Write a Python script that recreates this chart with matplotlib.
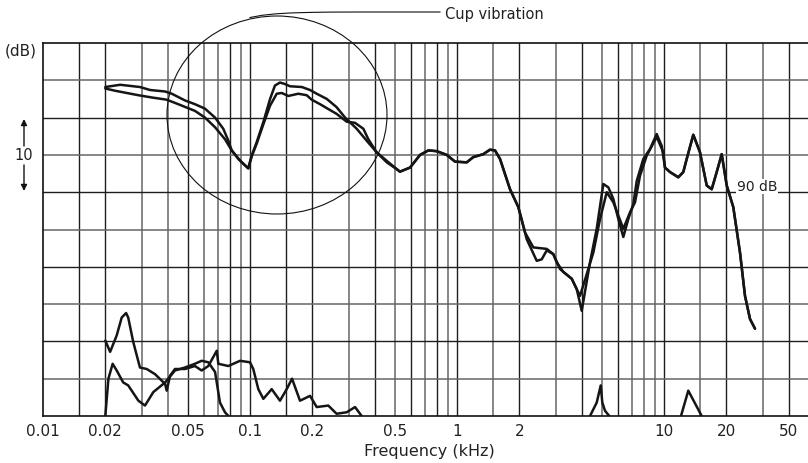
import matplotlib
matplotlib.use("Agg")
import matplotlib.pyplot as plt
from matplotlib.patches import Ellipse, FancyArrowPatch
from matplotlib.lines import Line2D
from matplotlib.ticker import NullLocator
import numpy as np

plt.rcParams['font.family'] = ['DejaVu Sans']

# ---------------- data (frequency in kHz, level in dB) ----------------
a_low_freq = [0.020, 0.0236, 0.0294, 0.0329, 0.0389, 0.0419, 0.0485, 0.0542, 0.0606, 0.0678,
              0.0743, 0.0786, 0.0816, 0.0878, 0.0981, 0.1019, 0.1077, 0.116, 0.125, 0.132,
              0.1396, 0.1476, 0.156, 0.178, 0.195, 0.210, 0.235, 0.262, 0.288, 0.3278,
              0.3663, 0.409, 0.458, 0.511]
a_low_level = [104.1, 104.4, 104.1, 103.7, 103.5, 103.2, 102.3, 101.8, 101.2, 100.0,
               98.5, 96.9, 95.6, 94.45, 93.2, 94.9, 96.7, 99.4, 102.5, 104.3,
               104.7, 104.5, 104.2, 104.1, 103.7, 103.2, 102.5, 101.4, 100.0, 98.5,
               96.9, 95.35, 94.0, 93.1]

b_low_freq = [0.020, 0.0223, 0.0289, 0.0335, 0.0396, 0.0450, 0.0542, 0.0606, 0.0678, 0.0757,
              0.0816, 0.0912, 0.0981, 0.1019, 0.1077, 0.116, 0.125, 0.1346, 0.1423, 0.1531,
              0.1711, 0.1879, 0.1986, 0.2179, 0.2389, 0.262, 0.2932, 0.3216, 0.353, 0.373,
              0.409, 0.458, 0.511]
b_low_level = [103.9, 103.6, 103.0, 102.7, 102.4, 101.8, 100.9, 100.0, 98.7, 97.1,
               95.6, 94.0, 93.2, 94.8, 96.5, 99.1, 101.6, 103.2, 103.3, 102.9,
               103.2, 103.0, 102.4, 101.8, 101.15, 100.5, 99.45, 99.3, 98.5, 97.1,
               95.35, 94.2, 93.1]

mid_freq = [0.530, 0.593, 0.663, 0.727, 0.798, 0.892, 0.978, 1.114, 1.198, 1.340,
            1.443, 1.526, 1.614, 1.803, 1.978, 2.131]
mid_level = [92.75, 93.3, 95.0, 95.6, 95.5, 95.0, 94.1, 94.0, 94.7, 95.1,
             95.7, 95.6, 94.45, 90.4, 88.0, 84.6]

a_high_freq = [2.337, 2.713, 2.919, 3.145, 3.583, 3.788, 3.929, 4.555, 4.908, 5.289,
               5.69, 6.36, 6.85, 7.243, 7.656, 8.249, 9.219, 9.922, 10.11]
a_high_level = [82.6, 82.4, 81.7, 79.7, 78.4, 77.0, 76.1, 81.9, 86.4, 90.0,
                88.65, 85.1, 87.3, 88.65, 92.2, 94.9, 97.4, 95.35, 93.3]

b_high_freq = [2.171, 2.427, 2.566, 2.713, 2.919, 3.031, 3.263, 3.583, 3.788, 4.004,
               4.39, 4.73, 5.091, 5.383, 5.69, 6.016, 6.36, 6.722, 7.107, 7.382,
               7.943, 8.558, 9.219, 9.748, 10.11]
b_high_level = [83.7, 80.8, 81.0, 82.2, 81.7, 80.6, 79.3, 78.4, 77.0, 74.1,
                80.6, 85.1, 91.1, 90.65, 89.1, 86.4, 84.0, 86.4, 88.4, 91.5,
                94.45, 95.8, 97.8, 96.2, 93.3]

tail_freq = [10.69, 11.72, 12.39, 12.87, 13.85, 14.92, 16.08, 17.0, 17.97, 19.0,
             20.09, 21.61, 23.29, 24.62, 26.03, 27.52]
tail_level = [92.7, 92.0, 92.7, 94.45, 97.7, 95.35, 90.9, 90.4, 92.7, 95.1,
              90.9, 88.0, 81.9, 76.1, 73.0, 71.7]

c_freq = [0.020, 0.0211, 0.0227, 0.0240, 0.0252, 0.0258, 0.0273, 0.0294, 0.0317, 0.0348,
          0.0389, 0.0396, 0.0411, 0.0434, 0.0485, 0.0542, 0.0584, 0.0629, 0.0691, 0.0703,
          0.0786, 0.0895, 0.100, 0.1037, 0.1097, 0.116, 0.1273, 0.1396, 0.1504, 0.1596,
          0.1744, 0.195, 0.210, 0.2389, 0.262, 0.2932, 0.3216, 0.3464]
c_level = [70.1, 68.6, 70.8, 73.2, 73.8, 73.2, 69.9, 66.5, 66.3, 65.6,
           64.3, 63.4, 65.4, 66.3, 66.3, 66.7, 66.1, 66.7, 68.75, 67.0,
           66.7, 67.4, 67.2, 66.3, 63.6, 62.3, 63.6, 62.05, 63.6, 65.0,
           62.05, 62.7, 61.2, 61.4, 60.3, 60.5, 61.2, 60.0]

d_freq = [0.020, 0.0207, 0.0217, 0.0227, 0.0244, 0.0258, 0.0289, 0.0311, 0.0341, 0.0389,
          0.0434, 0.0485, 0.0542, 0.0584, 0.0629, 0.0678, 0.0716, 0.0757, 0.0786]
d_level = [60.0, 65.0, 67.0, 66.1, 64.5, 64.1, 62.05, 61.4, 63.2, 64.5,
           66.1, 66.5, 67.0, 67.4, 67.2, 65.9, 61.8, 60.5, 60.0]

e1_freq = [4.39, 4.73, 4.946, 5.035, 5.188, 5.441]
e1_level = [60.0, 61.8, 64.1, 61.8, 60.7, 60.0]

e2_freq = [12.08, 13.10, 15.21]
e2_level = [60.0, 63.4, 60.0]

tick_pos = [0.01, 0.02, 0.05, 0.1, 0.2, 0.5, 1, 2, 10, 20, 40]
tick_labels = ['0.01', '0.02', '0.05', '0.1', '0.2', '0.5', '1', '2', '10', '20', '50']

grid_mult = [1, 1.5, 2, 3, 4, 5, 6, 7, 8, 9]
dark_grid = {0.015, 0.02, 0.05, 0.08, 0.1, 0.15, 0.2, 0.4, 0.6, 0.8, 1, 2, 4, 6, 10, 20, 40}
level_grid = [65, 70, 75, 80, 85, 90, 95, 100, 105]

# ---------------- figure ----------------
W, H = 808, 464
TXT = '#222222'
fig = plt.figure(figsize=(W / 100, H / 100), dpi=100)
ax = fig.add_axes([43 / W, 47 / H, 765.7 / W, 373 / H])
ax.set_xscale('log')
ax.set_xlim(0.01, 50)
ax.set_ylim(60, 110)

# grid
for dec in [0.01, 0.1, 1, 10]:
    for m in grid_mult:
        f = round(dec * m, 6)
        if f <= 0.01 or f > 45:
            continue
        dark = any(abs(f - d) < 1e-9 for d in dark_grid)
        ax.axvline(f, color='#1e1e1e' if dark else '#666666',
                   lw=1.0 if dark else 1.1, zorder=1)
for lv in level_grid:
    dark = lv % 10 == 0
    ax.axhline(lv, color='#1e1e1e' if dark else '#666666',
               lw=1.0 if dark else 1.1, zorder=1)

curve_kw = dict(color='#151515', lw=1.8, solid_joinstyle='round',
                solid_capstyle='round', zorder=3)
ax.plot(a_low_freq + mid_freq + a_high_freq + tail_freq,
        a_low_level + mid_level + a_high_level + tail_level, **curve_kw)
ax.plot(b_low_freq + mid_freq + b_high_freq + tail_freq,
        b_low_level + mid_level + b_high_level + tail_level, **curve_kw)
ax.plot(c_freq, c_level, **curve_kw)
ax.plot(d_freq, d_level, **curve_kw)
ax.plot(e1_freq, e1_level, **curve_kw)
ax.plot(e2_freq, e2_level, **curve_kw)

ax.set_xticks(tick_pos)
ax.set_xticklabels(tick_labels)
ax.xaxis.set_minor_locator(NullLocator())
ax.set_yticks([])
ax.tick_params(axis='x', length=0, pad=5, labelsize=11, labelcolor=TXT)

for s in ['left', 'top', 'bottom']:
    ax.spines[s].set_color('#111111')
    ax.spines[s].set_linewidth(1.2)
ax.spines['right'].set_visible(False)

ax.text(22.5, 90.8, '90 dB', fontsize=10, color=TXT, va='center', ha='left',
        zorder=4, bbox=dict(facecolor='white', edgecolor='none', pad=0.5))

# axis label and unit texts
fig.text(429 / W, 1 - 452 / H, 'Frequency (kHz)', fontsize=11.5, color=TXT,
         ha='center', va='center')
fig.text(21 / W, 1 - 51 / H, '(dB)', fontsize=11, color=TXT,
         ha='center', va='center')
fig.text(24 / W, 1 - 156 / H, '10', fontsize=10.5, color=TXT,
         ha='center', va='center')
arrow_kw = dict(arrowstyle='-|>', color='#111111', lw=1.0, mutation_scale=9,
                shrinkA=0, shrinkB=0)
fig.add_artist(FancyArrowPatch((24 / W, 1 - 147 / H), (24 / W, 1 - 120 / H),
                               transform=fig.transFigure, **arrow_kw))
fig.add_artist(FancyArrowPatch((24 / W, 1 - 166 / H), (24 / W, 1 - 192 / H),
                               transform=fig.transFigure, **arrow_kw))

# "Cup vibration" callout
ell = Ellipse((277 / W, 1 - 116 / H), 220 / W, 198 / H, transform=fig.transFigure,
              fill=False, lw=0.8, edgecolor='#111111', zorder=5)
fig.add_artist(ell)
lx = np.array([250, 262, 276, 292, 310, 330, 360, 440])
ly = np.array([18.5, 16.3, 14.8, 13.9, 13.4, 13.1, 13.0, 13.0])
fig.add_artist(Line2D(lx / W, 1 - ly / H, transform=fig.transFigure,
                      color='#111111', lw=0.8))
fig.text(445 / W, 1 - 14 / H, 'Cup vibration', fontsize=10.5, color=TXT,
         ha='left', va='center')

fig.savefig('out.png', dpi=100)
